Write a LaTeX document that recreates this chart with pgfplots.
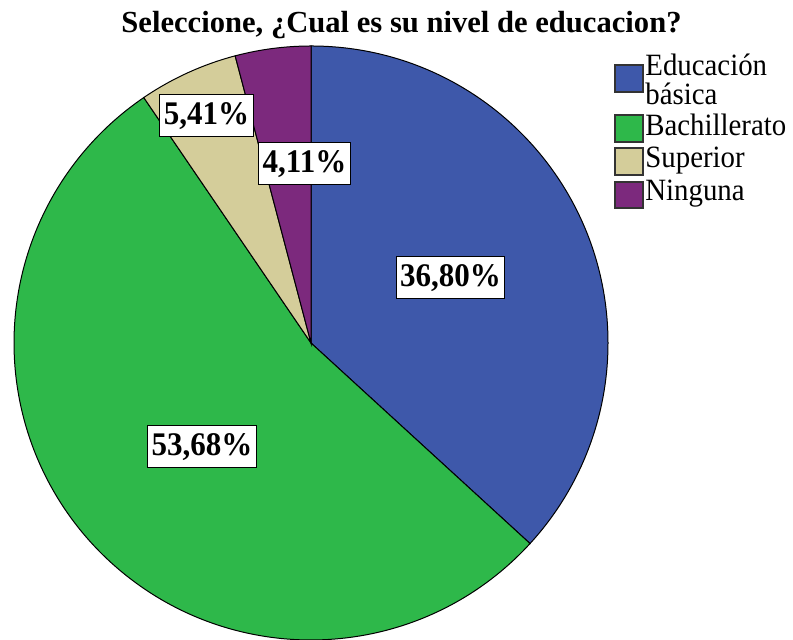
\documentclass[border=0pt]{standalone}
\usepackage{pgfplots}
\pgfplotsset{compat=1.18}
\usepackage{pgfplotstable}
\usepackage{fontspec}
\setmainfont{Liberation Serif}

\definecolor{cBasica}{RGB}{62,88,170}
\definecolor{cBach}{RGB}{46,184,74}
\definecolor{cSup}{RGB}{212,205,154}
\definecolor{cNing}{RGB}{124,41,125}

% porcentaje por nivel de educacion
\pgfplotstableread{
nivel pct
Basica 36.80
Bachillerato 53.68
Superior 5.41
Ninguna 4.11
}\niveles

\newcommand{\angosto}[1]{\scalebox{0.93}[1]{#1}}
\newcommand{\etq}[1]{\scalebox{0.94}[1]{#1}}

\begin{document}%
\pgfplotstablegetelem{0}{pct}\of\niveles\let\pA\pgfplotsretval%
\pgfplotstablegetelem{1}{pct}\of\niveles\let\pB\pgfplotsretval%
\pgfplotstablegetelem{2}{pct}\of\niveles\let\pC\pgfplotsretval%
\pgfplotstablegetelem{3}{pct}\of\niveles\let\pD\pgfplotsretval%
\pgfmathsetmacro{\aO}{90}%
\pgfmathsetmacro{\aA}{\aO-3.6*\pA}%
\pgfmathsetmacro{\aB}{\aA-3.6*\pB}%
\pgfmathsetmacro{\aC}{\aB-3.6*\pC}%
\pgfmathsetmacro{\aD}{\aC-3.6*\pD}%
\begin{tikzpicture}[
  etiqueta/.style={draw=black, fill=white, line width=0.5pt,
    font=\fontsize{16.5}{19}\selectfont\bfseries,
    inner xsep=2pt, minimum height=21pt},
  ley/.style={font=\fontsize{15.5}{14.5}\selectfont, anchor=base west, inner sep=0pt},
]
\begin{axis}[
  scale only axis, width=396.5pt, height=320pt,
  xmin=0, xmax=793, ymin=0, ymax=640,
  hide axis,
]
\path (axis cs:0,0) rectangle (axis cs:793,640);
\def\R{148.5pt}
\filldraw[fill=cBasica, draw=black, line width=0.5pt] (axis cs:311,297) -- ++(\aO:\R) arc[start angle=\aO, end angle=\aA, radius=\R] -- cycle;
\filldraw[fill=cBach, draw=black, line width=0.5pt] (axis cs:311,297) -- ++(\aA:\R) arc[start angle=\aA, end angle=\aB, radius=\R] -- cycle;
\filldraw[fill=cSup, draw=black, line width=0.5pt] (axis cs:311,297) -- ++(\aB:\R) arc[start angle=\aB, end angle=\aC, radius=\R] -- cycle;
\filldraw[fill=cNing, draw=black, line width=0.5pt] (axis cs:311,297) -- ++(\aC:\R) arc[start angle=\aC, end angle=\aD, radius=\R] -- cycle;

\node[etiqueta] at (axis cs:450.5,362) {\etq{36,80\%}};
\node[etiqueta] at (axis cs:202,193) {\etq{53,68\%}};
\node[etiqueta] at (axis cs:206.5,524) {\etq{5,41\%}};
\node[etiqueta] at (axis cs:304.5,476) {\etq{4,11\%}};

\node[anchor=base, font=\fontsize{15.3}{18}\selectfont\bfseries] at (axis cs:401.5,607) {Seleccione, ¿Cual es su nivel de educacion?};

\filldraw[fill=cBasica, draw=black!80, line width=0.6pt] (axis cs:615,575) rectangle (axis cs:643,548);
\filldraw[fill=cBach, draw=black!80, line width=0.6pt] (axis cs:615,525) rectangle (axis cs:643,498);
\filldraw[fill=cSup, draw=black!80, line width=0.6pt] (axis cs:615,492) rectangle (axis cs:643,465);
\filldraw[fill=cNing, draw=black!80, line width=0.6pt] (axis cs:615,458) rectangle (axis cs:643,432);
\node[ley, align=left] at (axis cs:645,535) {\angosto{Educación}\\\angosto{básica}};
\node[ley] at (axis cs:645,504) {\angosto{Bachillerato}};
\node[ley] at (axis cs:645,472) {\angosto{Superior}};
\node[ley] at (axis cs:645,439) {\angosto{Ninguna}};
\end{axis}
\end{tikzpicture}
\end{document}
